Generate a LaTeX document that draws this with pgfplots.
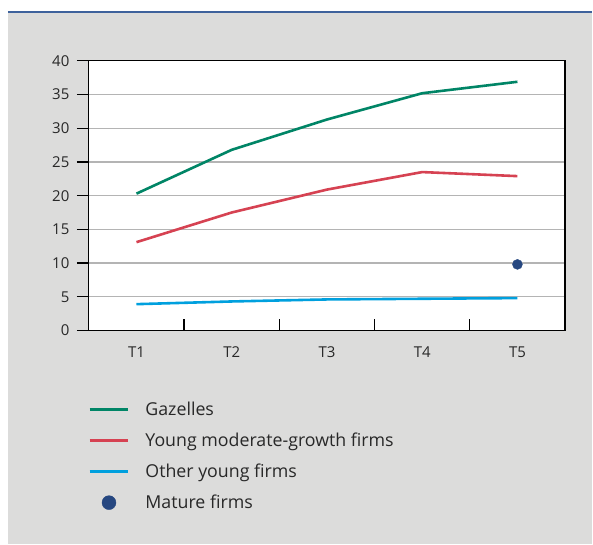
\documentclass[border=0pt]{standalone}
\usepackage{fontspec}
\setmainfont{Open Sans}
\usepackage{pgfplots}
\pgfplotsset{compat=1.18}
\definecolor{bg}{RGB}{220,220,219}
\definecolor{topblue}{RGB}{62,98,156}
\definecolor{gaz}{RGB}{0,133,102}
\definecolor{ymg}{RGB}{214,66,82}
\definecolor{oyf}{RGB}{0,160,222}
\definecolor{mat}{RGB}{38,71,128}
\definecolor{txt}{RGB}{40,40,40}
\begin{document}
\begin{tikzpicture}[x=1bp,y=1bp]
\path (0,0) rectangle (593,545);
\fill[bg] (8,0) rectangle (593,533);
\draw[topblue, line width=2bp] (8,533) -- (593,533);
\begin{axis}[
  at={(89bp,214bp)}, anchor=south west,
  scale only axis, width=477bp, height=270bp,
  xmin=0.5, xmax=5.5, ymin=0, ymax=40,
  axis background/.style={fill=white},
  xtick={1,2,3,4,5}, xticklabels={T1,T2,T3,T4,T5},
  xtick pos=bottom, ytick pos=left,
  major x tick style={draw=none},
  minor xtick={1.5,2.5,3.5,4.5},
  minor tick length=11bp,
  minor x tick style={yshift=11bp, black, line width=1.2bp},
  ytick={0,5,...,40},
  tick align=outside,
  major tick length=12bp,
  tick style={black, line width=1.2bp},
  ymajorgrids,
  grid style={draw={rgb,255:red,180;green,180;blue,180}, line width=1.2bp},
  axis line style={black, line width=1.2bp},
  tick label style={font=\fontsize{15bp}{18bp}\selectfont, text=txt},
  yticklabel style={xshift=-4bp},
  xticklabel style={yshift=-1bp},
  /pgf/number format/assume math mode=true,
  clip=false,
  legend style={at={(-0.008,-0.25)}, anchor=north west, draw=none, fill=none,
    font=\fontsize{17.8bp}{21bp}\selectfont, text=txt,
    row sep=12bp, nodes={inner sep=2bp}},
  legend cell align=left,
]
\addplot[gaz, line width=2.6bp, legend image code/.code={\draw[gaz, line width=2.6bp] (0bp,0bp) -- (39bp,0bp); \path[draw=none] (0bp,0bp) -- (54bp,0bp);}]
  coordinates {(1,20.3) (2,26.8) (3,31.3) (4,35.2) (5,36.9)};
\addlegendentry{Gazelles}
\addplot[ymg, line width=2.6bp, legend image code/.code={\draw[ymg, line width=2.6bp] (0bp,0bp) -- (39bp,0bp); \path[draw=none] (0bp,0bp) -- (54bp,0bp);}]
  coordinates {(1,13.1) (2,17.5) (3,20.9) (4,23.5) (5,22.9)};
\addlegendentry{Young moderate-growth firms}
\addplot[oyf, line width=2.6bp, legend image code/.code={\draw[oyf, line width=2.6bp] (0bp,0bp) -- (39bp,0bp); \path[draw=none] (0bp,0bp) -- (54bp,0bp);}]
  coordinates {(1,3.9) (2,4.3) (3,4.6) (4,4.7) (5,4.8)};
\addlegendentry{Other young firms}
\addplot[only marks, mark=*, mark size=5bp, mat, mark options={fill=mat, draw=mat},
  legend image code/.code={\fill[mat] (19.5bp,0bp) circle (7bp); \path[draw=none] (0bp,0bp) -- (54bp,0bp);}]
  coordinates {(5,9.8)};
\addlegendentry{Mature firms}
\end{axis}
\end{tikzpicture}
\end{document}
